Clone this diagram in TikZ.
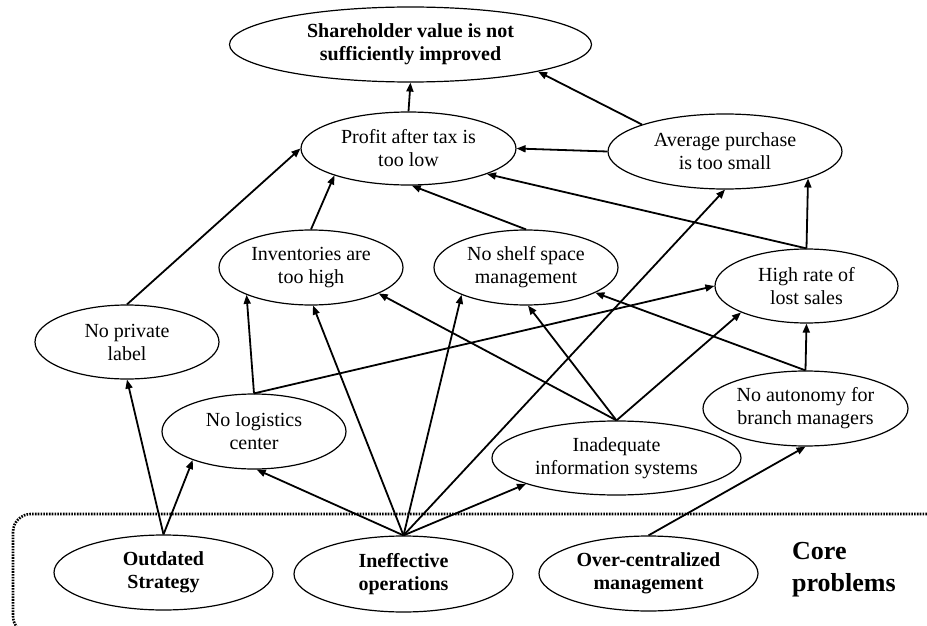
\documentclass[tikz,border=0pt]{standalone}
\usepackage{fontspec}
\setmainfont{Liberation Serif}
\usetikzlibrary{shapes.geometric,arrows.meta}
\begin{document}
\begin{tikzpicture}[x=1pt,y=-1pt,
  box/.style={ellipse,draw,line width=1.2pt,inner sep=0pt,align=center,font=\fontsize{20}{23}\selectfont},
  bbox/.style={box,font=\fontsize{20}{23}\selectfont\bfseries},
  arr/.style={line width=1.8pt,-{Triangle[length=9pt,width=7pt]}},
  frame/.style={line width=2.6pt,dash pattern=on 1.6pt off 1.2pt,rounded corners=18pt}
]
\clip (0,0) rectangle (927,626);
\draw[frame] (13,514) rectangle (960,634);

\node[bbox,minimum width=362pt,minimum height=75pt] (sh) at (410.5,44.5) {Shareholder value is not\\sufficiently improved};
\node[box,minimum width=215pt,minimum height=73pt] (pr) at (408.5,148.5) {Profit after tax is\\too low};
\node[box,minimum width=234pt,minimum height=75pt] (av) at (725,151.5) {Average purchase\\is too small};
\node[box,minimum width=183pt,minimum height=74pt] (hr) at (806.5,286) {High rate of\\lost sales};
\node[box,minimum width=184pt,minimum height=74pt] (np) at (127,342) {No private\\label};
\node[box,minimum width=184pt,minimum height=75pt] (inv) at (311,267.5) {Inventories are\\too high};
\node[box,minimum width=184pt,minimum height=75pt] (shf) at (526,267.5) {No shelf space\\management};
\node[box,minimum width=184pt,minimum height=75pt] (nl) at (254,431.5) {No logistics\\center};
\node[box,minimum width=205pt,minimum height=75pt] (aut) at (805.5,408.5) {No autonomy for\\branch managers};
\node[box,minimum width=249pt,minimum height=74pt] (ina) at (616.5,458) {Inadequate\\information systems};
\node[bbox,minimum width=219pt,minimum height=75pt] (od) at (163.5,572.5) {Outdated\\Strategy};
\node[bbox,minimum width=219pt,minimum height=76pt] (ie) at (403.5,574) {Ineffective\\operations};
\node[bbox,minimum width=219pt,minimum height=75pt] (oc) at (648.5,573.5) {Over-centralized\\management};
\node[anchor=west,inner sep=0pt,align=left,font=\fontsize{26}{32}\selectfont\bfseries] (core) at (792,570) {Core\\problems};

\draw[arr] (pr.north) -- (sh.south);
\draw[arr] (av.162) -- (sh.-12.6);
\draw[arr] (av.west) -- (pr.east);
\draw[arr] (hr.north) -- (pr.-18.6);
\draw[arr] (hr.north) -- (av.-18.4);
\draw[arr] (np.north) -- (pr.west);
\draw[arr] (inv.north) -- (pr.200.7);
\draw[arr] (shf.north) -- (pr.-85);
\draw[arr] (aut.north) -- (hr.south);
\draw[arr] (aut.north) -- (shf.-20.8);
\draw[arr] (nl.north) -- (inv.203.3);
\draw[arr] (nl.north) -- (hr.west);
\draw[arr] (od.north) -- (np.south);
\draw[arr] (od.north) -- (nl.205.5);
\draw[arr] (ie.north) -- (nl.-86);
\draw[arr] (ie.north) -- (inv.-87);
\draw[arr] (ie.north) -- (shf.203.6);
\draw[arr] (ie.north) -- (av.south);
\draw[arr] (ie.north) -- (ina.196.4);
\draw[arr] (ina.north) -- (inv.-21.9);
\draw[arr] (ina.north) -- (shf.-87);
\draw[arr] (ina.north) -- (hr.202.7);
\draw[arr] (oc.north) -- (aut.south);
\end{tikzpicture}
\end{document}
